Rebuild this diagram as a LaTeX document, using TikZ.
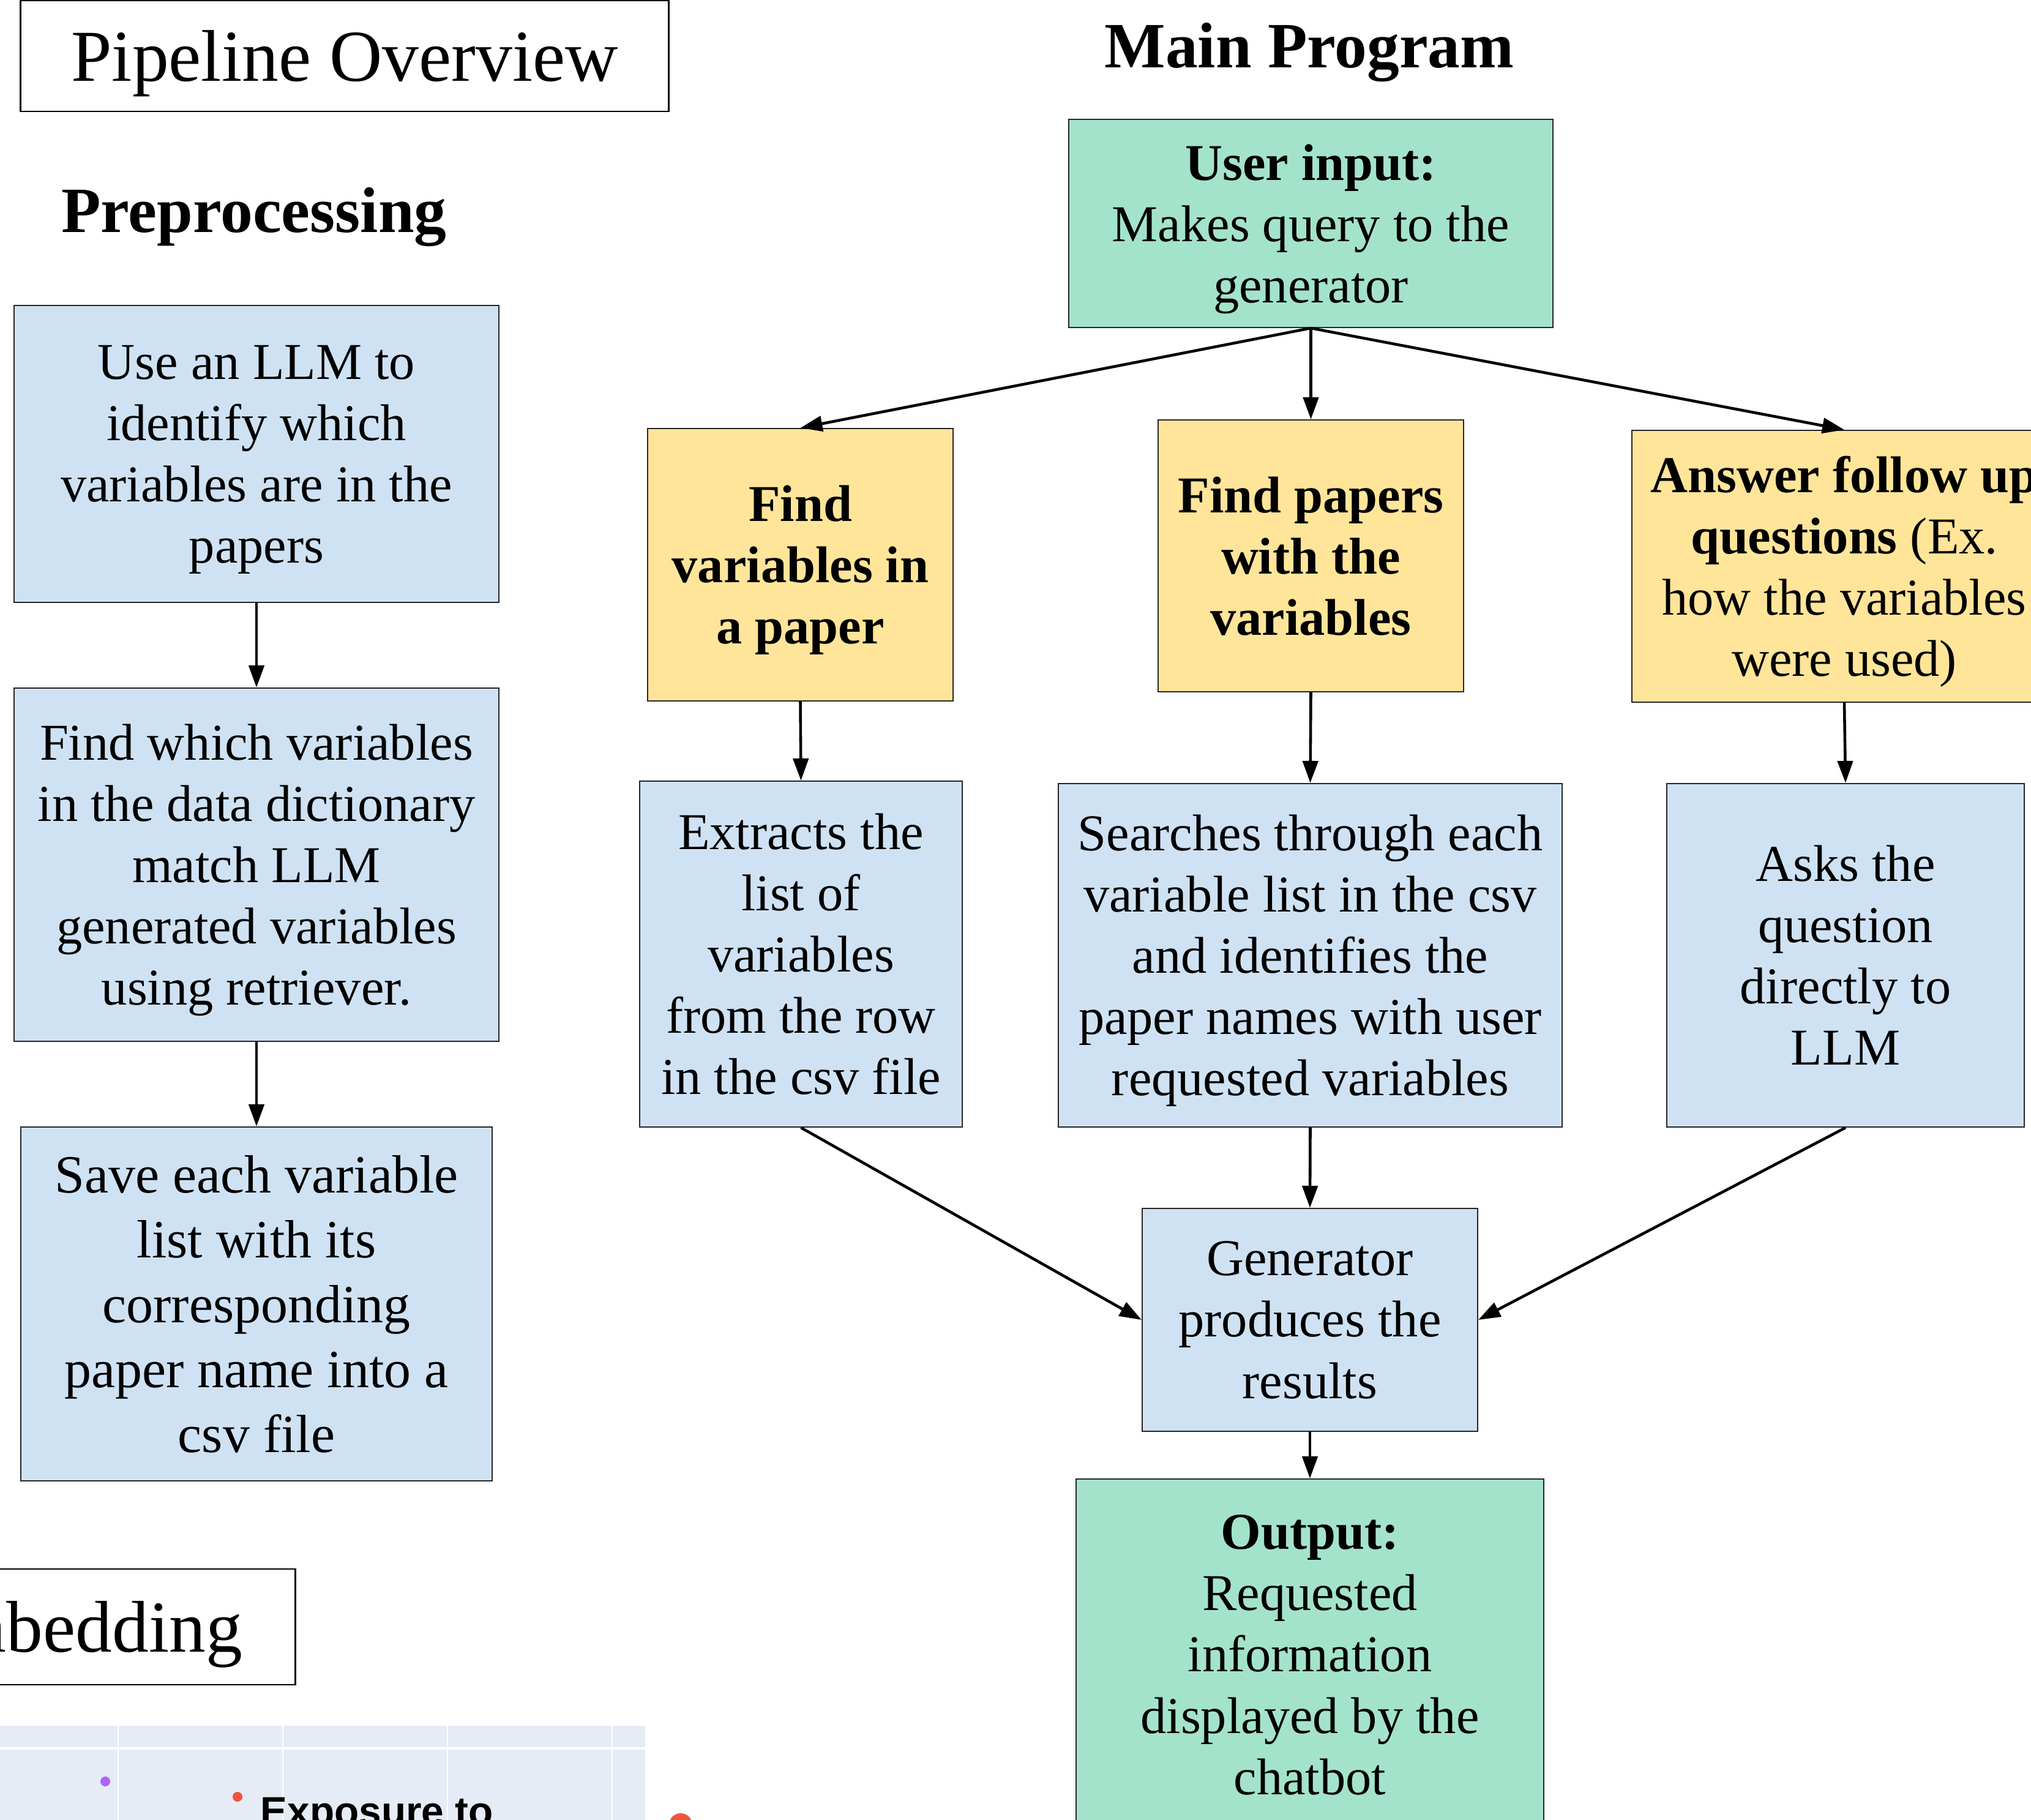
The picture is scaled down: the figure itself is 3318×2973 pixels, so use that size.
\documentclass[tikz,border=0pt]{standalone}
\usepackage{fontspec}
\setmainfont{Liberation Serif}
\newfontfamily\plotfont{Liberation Sans}
\usetikzlibrary{arrows.meta}
\definecolor{boxblue}{RGB}{207,226,243}
\definecolor{boxyellow}{RGB}{255,229,153}
\definecolor{boxgreen}{RGB}{164,227,203}
\definecolor{plotbg}{RGB}{229,236,246}
\definecolor{dotpurple}{RGB}{171,99,250}
\definecolor{dotred}{RGB}{239,85,59}

\begin{document}
\begin{tikzpicture}
    [
      x=0.01cm,
      y=-0.01cm,
      box/.style={rectangle,draw=black!85,line width=0.5pt,inner sep=0pt,text depth=0pt,align=center,font=\fontsize{24}{28.45}\selectfont},
      blu/.style={box,fill=boxblue},
      yel/.style={box,fill=boxyellow},
      grn/.style={box,fill=boxgreen},
      heading/.style={inner sep=0pt,anchor=base,font=\fontsize{30}{36}\selectfont\bfseries},
      banner/.style={rectangle,draw=black,line width=0.8pt,inner sep=0pt,text height=0.81cm,text depth=0pt,font=\fontsize{34}{40}\selectfont},
      flow/.style={-{Triangle[length=0.36cm,width=0.25cm]},line width=1.3pt},
    ]
    \useasboundingbox (0,0) rectangle (3318,2973);
    \fill[white] (0,0) rectangle (3318,2973);
    \clip (0,0) rectangle (3318,2973);

    % headings
    \node at (563, 91.5) [banner, minimum width=10.58cm, minimum height=1.81cm] (title) {Pipeline Overview};
    \node at (415, 380)  [heading] (pre) {Preprocessing};
    \node at (2139, 111) [heading] (main) {Main Program};

    % preprocessing column
    \node at (419, 741.5)  [blu, minimum width=7.92cm, minimum height=4.85cm] (llm) {Use an LLM to\\identify which\\variables are in the\\papers};
    \node at (419, 1412.5) [blu, minimum width=7.92cm, minimum height=5.77cm] (match) {Find which variables\\in the data dictionary\\match LLM\\generated variables\\using retriever.};
    \node at (419, 2130)   [blu, minimum width=7.70cm, minimum height=5.78cm, font=\fontsize{25}{30.1}\selectfont] (save) {Save each variable\\list with its\\corresponding\\paper name into a\\csv file};
    \draw[flow] (llm.south) -- (match.north);
    \draw[flow] (match.south) -- (save.north);

    % main program
    \node at (2141.5, 365) [grn, minimum width=7.91cm, minimum height=3.40cm] (uin) {\textbf{User input:}\\Makes query to the\\generator};
    \node at (1307.5, 922.5) [yel, minimum width=4.99cm, minimum height=4.45cm] (fvar) {\textbf{Find}\\\textbf{variables in}\\\textbf{a paper}};
    \node at (2141.5, 908)   [yel, minimum width=4.99cm, minimum height=4.44cm] (fpap) {\textbf{Find papers}\\\textbf{with the}\\\textbf{variables}};
    \node at (3013, 925)     [yel, minimum width=6.94cm, minimum height=4.44cm] (ans) {\textbf{Answer follow up}\\\textbf{questions} (Ex.\\how the variables\\were used)};
    \draw[flow] (uin.south) -- (fvar.north);
    \draw[flow] (uin.south) -- (fpap.north);
    \draw[flow] (uin.south) -- (ans.north);

    \node at (1308.5, 1558.5) [blu, minimum width=5.27cm, minimum height=5.65cm] (ext) {Extracts the\\list of\\variables\\from the row\\in the csv file};
    \node at (2140.5, 1560.5) [blu, minimum width=8.23cm, minimum height=5.61cm] (srch) {Searches through each\\variable list in the csv\\and identifies the\\paper names with user\\requested variables};
    \node at (3015, 1560.5)   [blu, minimum width=5.84cm, minimum height=5.61cm] (asks) {Asks the\\question\\directly to\\LLM};
    \draw[flow] (fvar.south) -- (ext.north);
    \draw[flow] (fpap.south) -- (srch.north);
    \draw[flow] (ans.south) -- (asks.north);

    \node at (2140, 2156) [blu, minimum width=5.48cm, minimum height=3.64cm] (gen) {Generator\\produces the\\results};
    \draw[flow] (ext.south) -- (gen.west);
    \draw[flow] (srch.south) -- (gen.north);
    \draw[flow] (asks.south) -- (gen.east);

    \node at (2140, 2703) [grn, minimum width=7.64cm, minimum height=5.74cm] (outp) {\textbf{Output:}\\Requested\\information\\displayed by the\\chatbot};
    \draw[flow] (gen.south) -- (outp.north);

    % embedding part, cut off
    \node at (120.5, 2657.5) [banner, minimum width=7.23cm, minimum height=1.89cm] (emb) {Embedding};
    \fill[plotbg] (-10,2819) rectangle (1054,2990);
    \foreach \gx in {193,462,731,1000}
      \draw[white, line width=0.8pt] (\gx,2819) -- (\gx,2990);
    \draw[white, line width=1pt] (-10,2856) -- (1054,2856);
    \fill[dotpurple] (172,2910) circle (0.08cm);
    \fill[dotred] (388,2935) circle (0.08cm);
    \node at (425, 2981) [anchor=base west, inner sep=0pt, font=\plotfont\bfseries\fontsize{18.7}{22}\selectfont] (expo) {Exposure to};
    \fill[dotred] (1112,2981) circle (0.19cm);
  \end{tikzpicture}
\end{document}
